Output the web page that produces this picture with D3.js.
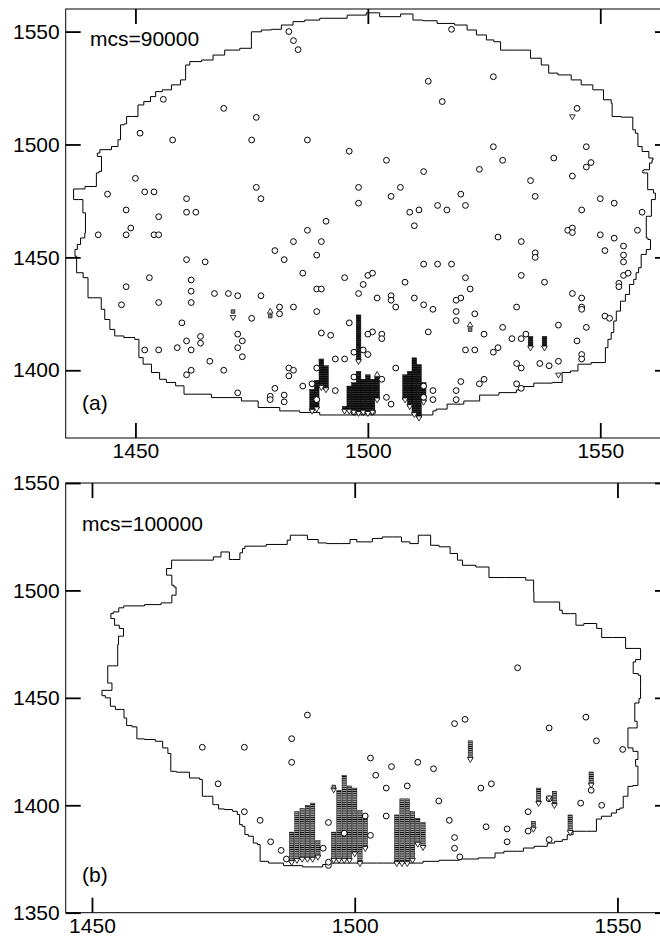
<!DOCTYPE html>
<html>
<head>
<meta charset="utf-8">
<script src="https://cdn.jsdelivr.net/npm/d3@7"></script>
<style>
body { margin: 0; background: white; }
svg text { font-family: "Liberation Sans", Arial, Helvetica, sans-serif; }
</style>
</head>
<body>
<script>

// tick values
var xTicks = [1450, 1500, 1550];
var yTicksA = [1400, 1450, 1500, 1550];
var yTicksB = [1350, 1400, 1450, 1500, 1550];
var mcsLabels = ["mcs=90000", "mcs=100000"];
var panelTags = ["(a)", "(b)"];

// (a) mcs=90000 : cluster boundary, step contour
var boundaryA = [
    [1436.7,1475.6],[1436.7,1480.3],[1441.6,1481.4],[1441.6,1487.4],[1442.7,1488.1],[1442.7,1494.7],[1440.9,1496.2],[1443.8,1497.7],
    [1445.9,1499.1],[1446.6,1502.1],[1447,1508.7],[1448.1,1509.1],[1448.1,1512.4],[1450.2,1512.4],[1450.9,1517.5],[1452.7,1519],
    [1453.8,1521.2],[1454.9,1523.4],[1456.7,1524.2],[1458.8,1526.4],[1460.6,1528.6],[1461,1535.2],[1462.4,1536.7],[1466,1537.4],
    [1467.4,1539.6],[1471,1541.8],[1473.9,1542.6],[1476,1549.9],[1478.2,1550.7],[1480.3,1551],[1482.5,1552.9],[1485.3,1554.4],
    [1487.5,1555.1],[1491.8,1555.9],[1499.3,1557.3],[1500,1558.3],[1505.1,1556.6],[1509,1557.8],[1510.4,1555.1],[1513.3,1554.8],
    [1516.5,1553.6],[1520.8,1552.9],[1521.9,1550.7],[1524.8,1548.5],[1526.2,1546.3],[1528,1545.5],[1529.1,1541.8],[1534.1,1541.8],
    [1535.9,1538.2],[1538.7,1535.2],[1539.1,1531.6],[1542.7,1530.8],[1544.8,1528.6],[1547,1526.4],[1549.8,1524.2],[1551.6,1519.8],
    [1553.1,1518.3],[1552,1512.4],[1557,1512.1],[1557,1506.5],[1558.1,1505],[1558.1,1499.1],[1559.9,1496.9],[1561,1494],
    [1561.7,1493.2],[1560.6,1491.8],[1560.6,1488.8],[1558.1,1488.5],[1560.2,1487.4],[1560.2,1480],[1562.7,1478.5],[1561,1475.6],
    [1561,1468.2],[1559.9,1468.2],[1559.9,1458.6],[1560.6,1457.9],[1561,1453.5],[1558.8,1451.3],[1558.8,1445.4],[1557.7,1443.2],
    [1557.7,1440.2],[1556.7,1438],[1555.9,1433.6],[1554.9,1430.6],[1553.8,1426.2],[1553.1,1421.8],[1552.7,1416.7],[1552,1413.7],
    [1551.3,1410],[1550.9,1403.4],[1545.2,1402.7],[1545.2,1399.7],[1542,1399],[1541.6,1394.6],[1537.7,1394.3],[1533.7,1392.8],
    [1533,1391.3],[1530.9,1390.1],[1525.5,1389],[1522.6,1386.4],[1518.7,1385],[1515.4,1382.8],[1514,1382],[1514,1380.2],
    [1491.8,1380.2],[1487.5,1381.3],[1483.2,1382],[1478.9,1383.5],[1473.9,1386.4],[1471.7,1387.9],[1461,1389.4],[1459.9,1393.1],
    [1457.4,1394.6],[1455.9,1396],[1454.5,1399],[1452.4,1402.7],[1450.9,1405.6],[1450.6,1413.7],[1449.1,1414.5],[1445.9,1415.2],
    [1445.2,1418.1],[1443.8,1422.5],[1443,1427],[1442.3,1432.1],[1439.8,1432.1],[1439.8,1441],[1437.7,1443.2],[1437,1450.5],
    [1437,1453.5],[1438,1455.7],[1438.4,1458.6],[1439.8,1460.8],[1438.7,1469.7],[1438.7,1475.6]
];

var circlesA = [
    [1483,1550],[1484,1546],[1485,1542],[1456,1520],[1469,1516],[1476,1512],[1451,1505],[1458,1502],[1475,1502],[1487,1502],
    [1450,1485],[1444,1478],[1452,1479],[1454,1479],[1476,1481],[1477,1476],[1461,1476],[1461,1470],[1463,1470],[1448,1471],
    [1455,1468],[1449,1463],[1442,1460],[1448,1460],[1454,1460],[1455,1460],[1491,1466],[1487,1462],
    [1484,1457],[1490,1457],[1480,1453],[1489,1451],[1461,1449],[1465,1448],[1482,1449],[1486,1443],[1453,1441],[1462,1440],
    [1448,1437],[1462,1435],[1467,1434],[1470,1434],[1472,1433],[1477,1433],[1489,1436],[1490,1436],[1455,1430],[1462,1430],
    [1447,1429],[1481,1428],[1481,1425],[1484,1428],[1489,1426],[1460,1421],[1475,1423],[1472,1416],[1473,1413],[1464,1415],
    [1464,1412],[1461,1413],[1462,1409],[1459,1410],[1455,1409],[1452,1409],[1472,1410],[1473,1406],[1466,1404],[1469,1400],
    [1462,1400],[1461,1398],[1483,1401],[1484,1400],[1483,1397.5],[1486,1393],[1490,1416.5],[1492,1415.5],[1472,1390],[1480,1392],
    [1479,1388.5],[1479,1387],[1482,1389],[1482,1386],[1489,1401],[1488,1394],[1489,1387],
    [1518,1551],[1513,1528],[1527,1530],[1516,1519],[1545,1516],[1496,1497],[1504,1493],[1527,1499],[1547,1499],[1529,1493],
    [1540,1494],[1548,1492],[1547,1490],[1512,1488],[1524,1489],[1544,1486],[1535,1484],[1498,1481],[1498,1474],[1507,1481],
    [1505,1477],[1536,1477],[1520,1478],[1550,1476],[1553,1474],[1559,1470],[1515,1473],[1517,1471],[1521,1473],[1509,1470],
    [1511,1471],[1510,1464],[1546,1471],[1543,1462],[1544,1463],[1544,1461],[1550,1460],[1558,1462],[1528,1459],[1553,1458.5],
    [1533,1457],[1555,1455],[1551,1453],[1536,1452],[1536,1450],[1555,1451],[1555,1448],[1512,1447],[1515,1447],[1518,1447],
    [1533,1442],[1521,1441],[1495,1441],[1555,1442],[1556,1443],[1500,1442],[1501,1443],[1499,1438],[1508,1439],[1538,1439],
    [1554,1438.5],[1554,1437],[1498,1434],[1522,1436],[1505,1433],[1505,1431],[1502,1432],[1506,1428],[1510,1432],[1520,1432],
    [1519,1431],[1544,1434],[1546,1432],[1546,1428],[1546,1427],[1512,1429],[1514,1427],[1519,1426],[1519,1422],[1523,1425],
    [1532,1428],[1551,1424],[1552,1423],[1496,1421],[1513,1417],[1529,1419],[1541,1420],[1547,1419],[1525,1416],[1501,1417],
    [1500,1416],[1503,1416],[1503,1414],[1531,1414],[1533,1414],[1534,1416],[1545,1413],[1521,1409],[1523,1409],[1527,1408],
    [1528,1410],[1546,1407],[1546,1405],[1541,1404],[1537,1403],[1539,1402],[1532,1403],[1533,1401],[1506,1401],[1520,1395],
    [1524,1394],[1525,1396],[1532,1394],[1533,1392],[1519,1391],[1519,1387],[1514,1391],[1514,1387],[1493,1391],[1504,1388],
    [1505,1385],[1495,1405],[1493,1405],[1500,1407],[1499,1409],[1497,1408],[1512,1393],[1512,1388],[1503,1396],[1497,1397],
    [1497,1381.5],[1499,1381.5],[1501,1381.5]
];

// stacked columns: [x, top y, bottom y]
var stacksA = [
    [1498,1424.5,1404],[1490,1405,1392.5],[1489,1395.5,1383],[1488,1391.5,1382],[1491,1402,1391.5],
    [1495,1384,1382],[1496,1393,1382],[1497,1394.5,1381.5],[1498,1399.5,1381],[1499,1396,1381.5],[1500,1398,1381],
    [1501,1396,1381.5],[1502,1397,1387],[1508,1398,1387],[1509,1399.5,1384],[1510,1405.5,1380.5],[1511,1402.5,1379],
    [1512,1394.5,1386],[1535,1415,1410],[1538,1415,1410]
];
var downA = [[1544,1512.4],[1541,1398],[1471,1423.5]];
var upA = [[1522,1420],[1479,1426],[1502,1398]];
var squaresA = [[1471,1426],[1479,1424],[1522,1418]];

// (b) mcs=100000
var boundaryB = [
    [1451.9,1453.5],[1453.8,1453.5],[1453.8,1456.9],[1453,1456.9],[1453,1464.9],[1454.9,1464.9],[1454.9,1474.8],[1455.2,1478.7],
    [1456,1478.7],[1456,1482.3],[1454.4,1483.8],[1454.2,1486.9],[1453,1489.2],[1455.1,1490],[1455.1,1491.9],[1457,1492.8],
    [1463,1493.4],[1463.3,1494.2],[1465.2,1494.2],[1465.2,1497.8],[1466,1497.8],[1466,1501.6],[1465.2,1502.4],[1465.2,1507.1],
    [1464.1,1507.1],[1464.3,1510.2],[1466,1514.1],[1473.1,1514.1],[1473.1,1515.6],[1476,1517.9],[1476.3,1514.4],[1477.2,1514.4],
    [1479.1,1517.5],[1478.2,1519.5],[1480,1520.6],[1483,1520.6],[1483.3,1521.4],[1487.1,1521.4],[1487.2,1523.4],[1488.3,1525.7],
    [1489.9,1525.7],[1492.1,1523.7],[1494,1522.1],[1495.3,1521.8],[1499,1521.8],[1499.2,1523.7],[1501.6,1522.6],[1505.1,1524.2],
    [1505.4,1524.9],[1508.9,1524.9],[1508.9,1522.6],[1512.1,1521.8],[1512.1,1525.7],[1514,1525.7],[1514.9,1521],[1517.2,1520.3],
    [1519.1,1517.2],[1520,1514.1],[1521,1511.7],[1525.1,1510.9],[1526,1506],[1531.1,1506],[1534,1504.8],[1534.1,1499.3],
    [1534.1,1494.6],[1539,1494.6],[1539,1490.8],[1540,1489.2],[1542.1,1489.2],[1542.1,1483.8],[1545.1,1484.6],[1547,1482.3],
    [1547,1478.1],[1551.1,1478.1],[1552,1475.6],[1551.1,1473],[1554.9,1473],[1553.9,1467.8],[1553,1466.7],[1553,1461.3],
    [1554.9,1460.5],[1553.9,1455.1],[1554.9,1449.7],[1553.3,1447.6],[1553.3,1439.1],[1554.2,1436],[1552,1436],[1552,1426.7],
    [1553.9,1425.1],[1553.9,1421.3],[1553,1418.9],[1553.9,1418.2],[1553.9,1409.2],[1552,1408.8],[1552,1404.2],[1551.1,1404.2],
    [1551.1,1398.7],[1549.8,1398],[1549.8,1396.4],[1547.9,1394.9],[1546,1393.6],[1546,1387.9],[1542.2,1387.9],[1540.9,1386.3],
    [1540,1384],[1539,1383.2],[1537.1,1382.4],[1536.2,1380.9],[1532.1,1380.1],[1532.1,1378.6],[1529.8,1378.6],[1527,1377.8],
    [1526.4,1375.5],[1520.7,1375],[1519.1,1374.4],[1513,1373.9],[1513,1373.1],[1495.3,1373.1],[1495.3,1372.4],[1492.5,1371.3],
    [1487.7,1371.9],[1485.2,1373.1],[1482,1373.9],[1482,1381.7],[1481,1382.4],[1480.4,1385.6],[1479.1,1386.4],[1479.1,1390.2],
    [1478.1,1391],[1478.1,1395.7],[1477.2,1397.2],[1476.3,1398],[1474.1,1398.3],[1474.1,1400.3],[1473,1400.3],[1473,1404.2],
    [1471,1404.2],[1471,1412],[1470,1412.7],[1467.1,1415.4],[1465,1415.8],[1465,1424.1],[1463.9,1426.7],[1463,1429.8],
    [1461.1,1430.6],[1458.9,1430.9],[1458.2,1436.5],[1457.1,1437.1],[1456.1,1440.6],[1456.1,1444.6],[1455.1,1444.6],[1453.8,1446.1],
    [1453.2,1450],[1451.9,1451]
];

var circlesB = [
    [1531,1464],[1491,1442],[1488,1431],[1488,1420],[1471,1427],[1479,1427],[1474,1410],[1479,1397],[1482,1393],[1484,1383],
    [1486,1379],[1487,1375],[1495,1392],[1494,1380],[1519,1438],[1521,1440],[1544,1441],[1537,1436],[1546,1430],[1551,1426],
    [1503,1422],[1507,1418],[1512,1420],[1515,1417],[1504,1414],[1506,1408],[1510,1409],[1524,1408],[1526,1410],[1516,1402],
    [1506,1395],[1518,1393],[1519,1385],[1519,1380],[1520,1376],[1525,1390],[1529,1389],[1529,1383],[1533,1397],[1533,1388],
    [1537,1384],[1537,1403],[1543,1401],[1545,1407],[1547,1400],[1503,1386],[1498,1387],[1502,1395],[1495,1372],[1495,1373.5]
];

var stacksB = [
    [1488,1387.5,1373.5],[1489,1397,1374.5],[1490,1398.5,1375],[1491,1400,1375],[1492,1401,1375],[1493,1383.5,1376],
    [1496,1387.5,1374.5],[1497,1407,1374.5],[1498,1414,1374.5],[1499,1409,1374.5],[1500,1408,1377.5],[1501,1397.5,1373],
    [1502,1394.5,1380],[1508,1395.5,1373],[1509,1403,1373],[1510,1403,1373],[1511,1397,1374.5],[1512,1394,1382],
    [1513,1392,1380.5],[1522,1430,1421.5],[1535,1408,1401],[1538,1406.5,1400],[1534,1392.5,1389],[1541,1395.5,1387.5],
    [1545,1415.5,1409.5]
];
var downB = [[1496,1407.3],[1537,1403.5]];
var upB = [];
var squaresB = [[1496,1408.5]];


var W = 660, H = 936;
var svg = d3.select("body")
    .append("svg")
    .attr("width", W)
    .attr("height", H);

var defs = svg.append("defs");

function hatch(id, bg, ink, step, lw) {
    var p = defs.append("pattern")
        .attr("id", id)
        .attr("patternUnits", "userSpaceOnUse")
        .attr("width", 8)
        .attr("height", step);
    p.append("rect").attr("width", 8).attr("height", step).attr("fill", bg);
    p.append("line")
        .attr("x1", 0).attr("x2", 8)
        .attr("y1", lw / 2).attr("y2", lw / 2)
        .attr("stroke", ink)
        .attr("stroke-width", lw);
}
hatch("stackA", "#0a0a0a", "#999", 2.26, 0.35);
hatch("stackB", "#a0a0a0", "#000", 2.15, 0.8);

var panels = [
    { xDomain: [1435, 1565], yDomain: [1370, 1560], top: 9, bottom: 438, yTicks: yTicksA,
      boundary: boundaryA, circles: circlesA, stacks: stacksA, down: downA, up: upA, squares: squaresA,
      fill: "url(#stackA)", colFrac: 1.0, mcs: mcsLabels[0], tag: panelTags[0], mcsX: 90, mcsY: 46, tagY: 410 },
    { xDomain: [1445, 1560], yDomain: [1350, 1550], top: 483, bottom: 912.7, yTicks: yTicksB,
      boundary: boundaryB, circles: circlesB, stacks: stacksB, down: downB, up: upB, squares: squaresB,
      fill: "url(#stackB)", colFrac: 0.82, mcs: mcsLabels[1], tag: panelTags[1], mcsX: 82, mcsY: 531, tagY: 882 }
];

var left = 65.7, right = 670;

function styleAxis(a) {
    a.select(".domain").remove();
    a.selectAll(".tick line").attr("stroke", "black").attr("stroke-width", 1.8);
    a.selectAll("text")
        .attr("fill", "black")
        .style("font-size", "21px")
        .style("font-family", '"Liberation Sans", Arial, Helvetica, sans-serif');
}

function buildPanel(p) {
    var x = d3.scaleLinear().domain(p.xDomain).range([left, right]);
    var y = d3.scaleLinear().domain(p.yDomain).range([p.bottom, p.top]);
    var g = svg.append("g");
    var fmt = d3.format("d");

    g.append("rect")
        .attr("x", left)
        .attr("y", p.top)
        .attr("width", right - left)
        .attr("height", p.bottom - p.top)
        .attr("fill", "none")
        .attr("stroke", "black")
        .attr("stroke-width", 1);

    // ticks point inward on all four sides, labels only left and bottom
    g.append("g").attr("transform", "translate(" + left + ",0)")
        .call(d3.axisLeft(y).tickValues(p.yTicks).tickSize(-15).tickPadding(6).tickFormat(fmt))
        .call(styleAxis);
    g.append("g").attr("transform", "translate(" + right + ",0)")
        .call(d3.axisRight(y).tickValues(p.yTicks).tickSize(-15).tickFormat(""))
        .call(styleAxis);
    g.append("g").attr("transform", "translate(0," + p.bottom + ")")
        .call(d3.axisBottom(x).tickValues(xTicks).tickSize(-15).tickPadding(5).tickFormat(fmt))
        .call(styleAxis);
    g.append("g").attr("transform", "translate(0," + p.top + ")")
        .call(d3.axisTop(x).tickValues(xTicks).tickSize(-15).tickFormat(""))
        .call(styleAxis);

    var line = d3.line()
        .x(function (d) { return x(d[0]); })
        .y(function (d) { return y(d[1]); })
        .curve(d3.curveStep);

    g.append("path")
        .datum(p.boundary.concat([p.boundary[0]]))
        .attr("d", line)
        .attr("fill", "none")
        .attr("stroke", "black")
        .attr("stroke-width", 1);

    var colW = (x(1) - x(0)) * p.colFrac;

    g.selectAll(".stack")
        .data(p.stacks)
        .enter()
        .append("rect")
        .attr("class", "stack")
        .attr("x", function (d) { return x(d[0]) - colW / 2; })
        .attr("y", function (d) { return y(d[1]); })
        .attr("width", colW)
        .attr("height", function (d) { return y(d[2]) - y(d[1]); })
        .attr("fill", p.fill)
        .attr("stroke", "black")
        .attr("stroke-width", 0.5);

    var tri = d3.symbol().type(d3.symbolTriangle).size(14);
    var sq = d3.symbol().type(d3.symbolSquare).size(13);

    g.selectAll(".circ")
        .data(p.circles)
        .enter()
        .append("circle")
        .attr("class", "circ")
        .attr("cx", function (d) { return x(d[0]); })
        .attr("cy", function (d) { return y(d[1]); })
        .attr("r", 2.9)
        .attr("fill", "white")
        .attr("stroke", "black")
        .attr("stroke-width", 1);

    // arrow heads at the foot of every column
    g.selectAll(".foot")
        .data(p.stacks.concat(p.down.map(function (d) { return [d[0], d[1], d[1]]; })))
        .enter()
        .append("path")
        .attr("class", "foot")
        .attr("d", tri)
        .attr("transform", function (d) {
            return "translate(" + x(d[0]) + "," + y(d[2]) + ") rotate(180)";
        })
        .attr("fill", "white")
        .attr("stroke", "black")
        .attr("stroke-width", 0.8);

    g.selectAll(".up")
        .data(p.up)
        .enter()
        .append("path")
        .attr("class", "up")
        .attr("d", tri)
        .attr("transform", function (d) { return "translate(" + x(d[0]) + "," + y(d[1]) + ")"; })
        .attr("fill", "white")
        .attr("stroke", "black")
        .attr("stroke-width", 0.8);

    g.selectAll(".sq")
        .data(p.squares)
        .enter()
        .append("path")
        .attr("class", "sq")
        .attr("d", sq)
        .attr("transform", function (d) { return "translate(" + x(d[0]) + "," + y(d[1]) + ")"; })
        .attr("fill", "#888")
        .attr("stroke", "black")
        .attr("stroke-width", 0.7);

    g.append("text")
        .attr("x", p.mcsX)
        .attr("y", p.mcsY)
        .style("font-size", "21px")
        .text(p.mcs);

    g.append("text")
        .attr("x", 82)
        .attr("y", p.tagY)
        .style("font-size", "21px")
        .text(p.tag);
}

panels.forEach(buildPanel);

</script>
</body>
</html>
